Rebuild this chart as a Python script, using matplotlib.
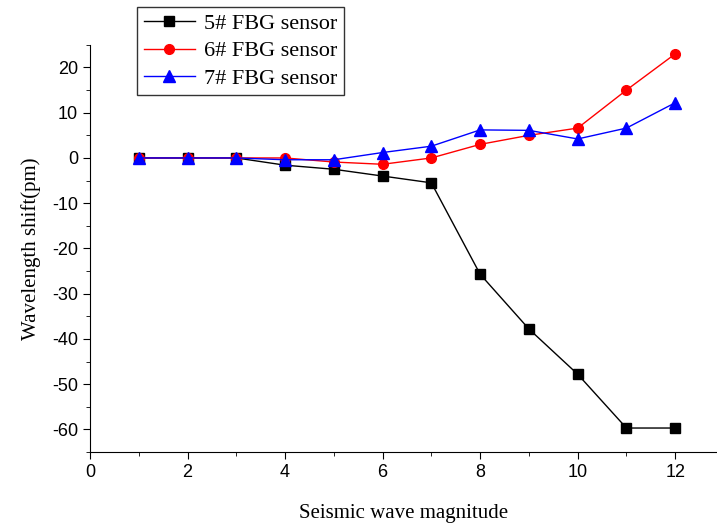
import matplotlib.pyplot as plt
from matplotlib.ticker import MultipleLocator

plt.rcParams["axes.unicode_minus"] = False

magnitude = [1, 2, 3, 4, 5, 6, 7, 8, 9, 10, 11, 12]
sensor5 = [0, 0, 0, -1.6, -2.5, -4, -5.5, -25.7, -37.8, -47.8, -59.7, -59.7]
sensor6 = [0, 0, 0, 0, -0.9, -1.4, 0, 3, 5, 6.6, 15, 23]
sensor7 = [0, 0, 0, -0.4, -0.4, 1.2, 2.6, 6.2, 6.1, 4.2, 6.6, 12.2]

fig = plt.figure(figsize=(7.17, 5.24), dpi=100)
ax = fig.add_axes([0.1255, 0.1374, 0.874, 0.777])

ax.plot(magnitude, sensor5, color="black", marker="s", markersize=7, linewidth=1, label="5# FBG sensor")
ax.plot(magnitude, sensor6, color="red", marker="o", markersize=7, linewidth=1, label="6# FBG sensor")
ax.plot(magnitude, sensor7, color="blue", marker="^", markersize=8, linewidth=1, label="7# FBG sensor")

ax.set_xlim(0, 12.85)
ax.set_ylim(-65, 25)
ax.xaxis.set_major_locator(MultipleLocator(2))
ax.xaxis.set_minor_locator(MultipleLocator(1))
ax.yaxis.set_major_locator(MultipleLocator(10))
ax.yaxis.set_minor_locator(MultipleLocator(5))
ax.spines["top"].set_visible(False)
ax.spines["right"].set_visible(False)
ax.tick_params(which="major", direction="out", length=5, labelsize=13)
ax.tick_params(which="minor", direction="out", length=3)
for lab in ax.get_xticklabels() + ax.get_yticklabels():
    lab.set_family("Liberation Sans")

ax.set_xlabel("Seismic wave magnitude", family="Liberation Serif", fontsize=15, labelpad=17)
ax.set_ylabel("Wavelength shift(pm)", family="Liberation Serif", fontsize=15, labelpad=8)

leg = ax.legend(loc="upper left", bbox_to_anchor=(0.075, 1.093), prop={"family": "Liberation Serif", "size": 16},
                frameon=True, fancybox=False, edgecolor="black", handlelength=2.3, borderpad=0.3,
                labelspacing=0.3, handletextpad=0.4, borderaxespad=0)
leg.get_frame().set_linewidth(1)

fig.savefig("out.png", dpi=100)
